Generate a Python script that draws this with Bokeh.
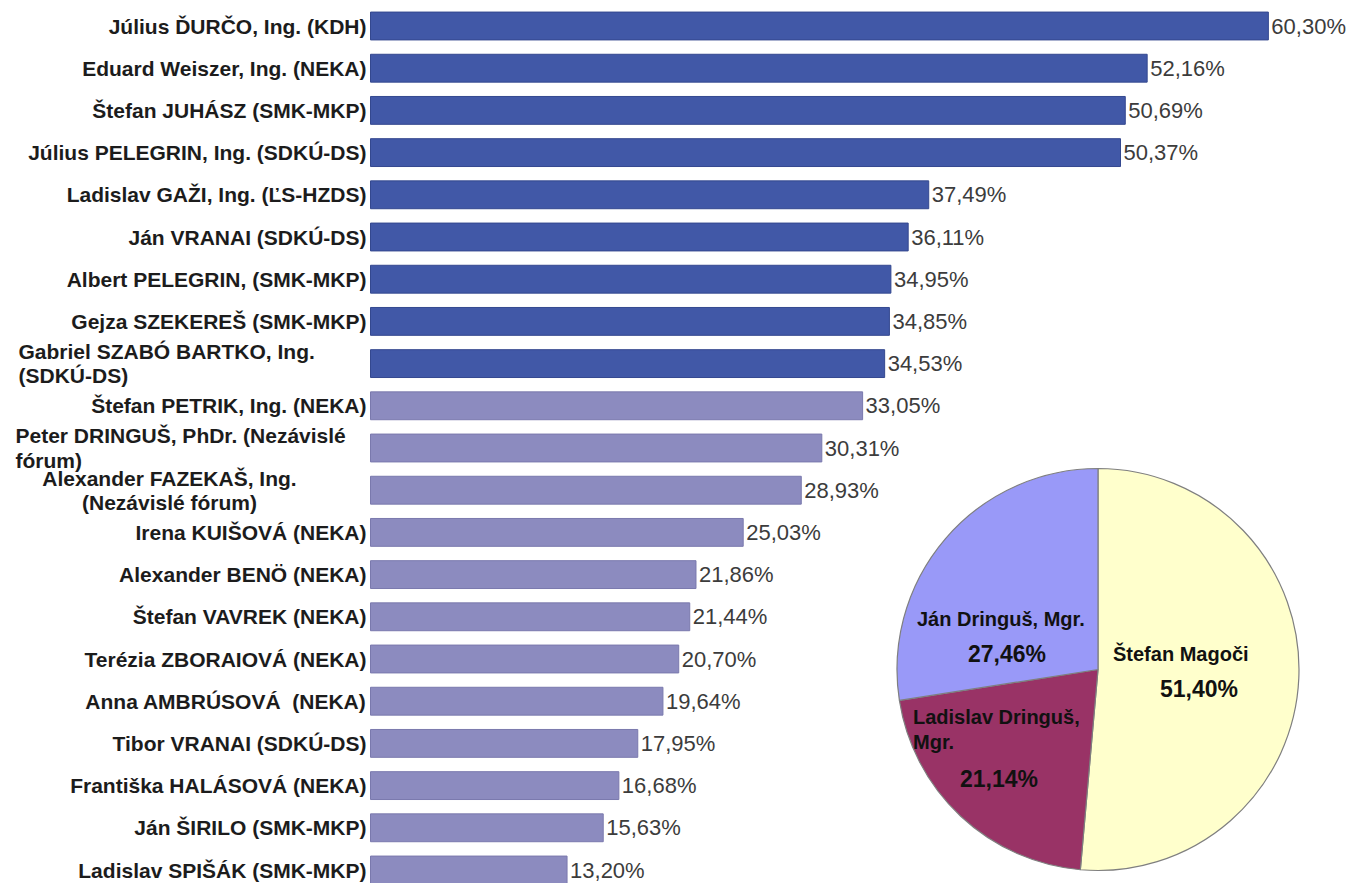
from bokeh.plotting import figure
from bokeh.models import ColumnDataSource, Range1d
from bokeh.core.properties import value
from bokeh.embed import file_html
from bokeh.resources import INLINE
import math

# ---------------- data ----------------
candidates = [
    "Július ĎURČO, Ing. (KDH)",
    "Eduard Weiszer, Ing. (NEKA)",
    "Štefan JUHÁSZ (SMK-MKP)",
    "Július PELEGRIN, Ing. (SDKÚ-DS)",
    "Ladislav GAŽI, Ing. (ĽS-HZDS)",
    "Ján VRANAI (SDKÚ-DS)",
    "Albert PELEGRIN, (SMK-MKP)",
    "Gejza SZEKEREŠ (SMK-MKP)",
    "Gabriel SZABÓ BARTKO, Ing.\n(SDKÚ-DS)",
    "Štefan PETRIK, Ing. (NEKA)",
    "Peter DRINGUŠ, PhDr. (Nezávislé\nfórum)",
    "Alexander FAZEKAŠ, Ing.\n(Nezávislé fórum)",
    "Irena KUIŠOVÁ (NEKA)",
    "Alexander BENÖ (NEKA)",
    "Štefan VAVREK (NEKA)",
    "Terézia ZBORAIOVÁ (NEKA)",
    "Anna AMBRÚSOVÁ \u00a0(NEKA)",
    "Tibor VRANAI (SDKÚ-DS)",
    "Františka HALÁSOVÁ (NEKA)",
    "Ján ŠIRILO (SMK-MKP)",
    "Ladislav SPIŠÁK (SMK-MKP)",
]
votes_pct = [60.30, 52.16, 50.69, 50.37, 37.49, 36.11, 34.95, 34.85, 34.53,
             33.05, 30.31, 28.93, 25.03, 21.86, 21.44, 20.70, 19.64, 17.95,
             16.68, 15.63, 13.20]
elected_count = 9

pie_names = ["Štefan Magoči", "Ladislav Dringuš,\nMgr.", "Ján Dringuš, Mgr."]
pie_pct = [51.40, 21.14, 27.46]

# ---------------- styling / layout ----------------
W, H = 1354, 883
DARK, LIGHT = "#4158a7", "#8c8bbf"
DARK_EDGE, LIGHT_EDGE = "#34488f", "#7a79ad"
PIE_COLORS = ["#ffffcc", "#993366", "#9999f8"]
px_per_pct = 14.89
zero_px = 370.0
row_px = 42.2
first_row_px = 25.5
n = len(candidates)

def fmt(v):
    return ("%.2f" % v).replace(".", ",") + "%"

p = figure(width=W, height=H, output_backend="svg", toolbar_location=None,
           x_range=Range1d(-zero_px / px_per_pct, (W - zero_px) / px_per_pct),
           y_range=Range1d((n - 1) - (H - first_row_px) / row_px,
                           (n - 1) + first_row_px / row_px),
           min_border=0, outline_line_color=None)
p.axis.visible = False
p.grid.visible = False
p.background_fill_color = "white"
p.border_fill_color = "white"

ys = [n - 1 - i for i in range(n)]
colors = [DARK if i < elected_count else LIGHT for i in range(n)]
edges = [DARK_EDGE if i < elected_count else LIGHT_EDGE for i in range(n)]
bars = ColumnDataSource(dict(y=ys, v=votes_pct, c=colors, e=edges,
                             lbl=[fmt(v) for v in votes_pct]))
p.hbar(y="y", left=0, right="v", height=0.66, fill_color="c", line_color="e",
       line_width=1, source=bars)
p.text(x="v", y="y", text="lbl", source=bars, x_offset=3,
       text_align="left", text_baseline="middle",
       text_font=value("Liberation Sans"), text_font_size="22px",
       text_color="#3c3c3c")

# candidate labels
multi_layout = {8: ("left", -352), 10: ("left", -355), 11: ("center", -201)}
groups = {"right": dict(x=[], y=[], t=[], o=[]),
          "left": dict(x=[], y=[], t=[], o=[]),
          "center": dict(x=[], y=[], t=[], o=[])}
for i, name in enumerate(candidates):
    align, off = multi_layout.get(i, ("right", -4))
    g = groups[align]
    g["x"].append(0)
    g["y"].append(ys[i])
    g["t"].append(name)
    g["o"].append(off)
for align, g in groups.items():
    if not g["t"]:
        continue
    p.text(x="x", y="y", text="t", x_offset="o", source=ColumnDataSource(g),
           text_align=align, text_baseline="middle",
           text_font=value("Liberation Sans"), text_font_style="bold",
           text_font_size="21px", text_color="#1c1c1c", text_line_height=1.05)

# ---------------- pie ----------------
pie_cx = (1097.5 - zero_px) / px_per_pct
pie_cy = (n - 1) - (669.0 - first_row_px) / row_px
radius_px = 201
starts, ends = [], []
acc = 0.0
total = sum(pie_pct)
for v in pie_pct:
    a0 = math.pi / 2 - 2 * math.pi * acc / total
    acc += v
    a1 = math.pi / 2 - 2 * math.pi * acc / total
    starts.append(a0)
    ends.append(a1)
pie = ColumnDataSource(dict(x=[pie_cx] * 3, y=[pie_cy] * 3, s=starts, e=ends,
                            c=PIE_COLORS))
p.wedge(x="x", y="y", radius=radius_px, radius_units="screen",
        start_angle="s", end_angle="e", direction="clock",
        fill_color="c", line_color="#7f7f7f", line_width=1.2, source=pie)

name_off = [(15, -16), (-185, 60), (-181, -51)]
val_off = [(101, 19), (-99, 109), (-91, -16)]
p.text(x=[pie_cx] * 3, y=[pie_cy] * 3, text=pie_names,
       x_offset=[o[0] for o in name_off], y_offset=[o[1] for o in name_off],
       text_align="left", text_baseline="middle",
       text_font=value("Liberation Sans"), text_font_style="bold",
       text_font_size="20px", text_color="#111111", text_line_height=1.15)
p.text(x=[pie_cx] * 3, y=[pie_cy] * 3, text=[fmt(v) for v in pie_pct],
       x_offset=[o[0] for o in val_off], y_offset=[o[1] for o in val_off],
       text_align="center", text_baseline="middle",
       text_font=value("Liberation Sans"), text_font_style="bold",
       text_font_size="23px", text_color="#111111")

open("out.html", "w").write(file_html(p, INLINE))
